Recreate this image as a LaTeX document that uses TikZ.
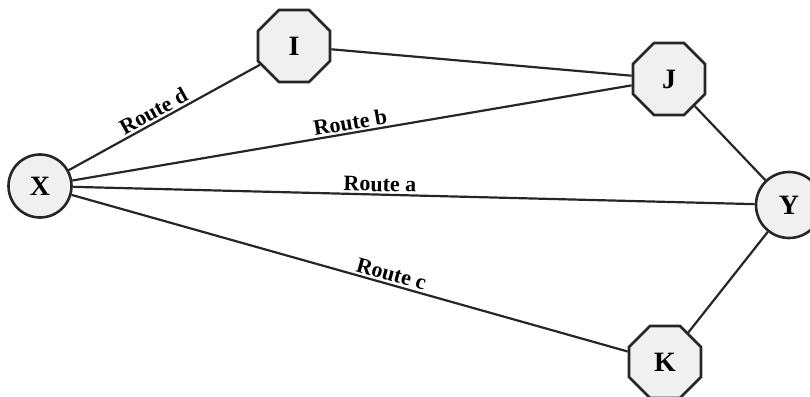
\documentclass[tikz,border=0pt]{standalone}
\usepackage{fontspec}
\setmainfont{Liberation Serif}
\usetikzlibrary{shapes.geometric}
\begin{document}
\begin{tikzpicture}[x=1pt,y=-1pt,
  vtx/.style={draw=black!85,line width=2.6pt,fill=black!6,inner sep=0pt,
    font=\fontsize{28}{30}\selectfont\bfseries},
  octo/.style={vtx,regular polygon,regular polygon sides=8,minimum size=78pt},
  circ/.style={vtx,circle},
  link/.style={draw=black!85,line width=2.2pt},
  lab/.style={sloped,above,inner sep=2pt,font=\fontsize{22}{24}\selectfont\bfseries}]
\useasboundingbox (0,0) rectangle (810,396);
\node[circ,minimum size=63pt] (X) at (40,186) {X};
\node[octo] (I) at (294,46) {I};
\node[octo] (J) at (669,79) {J};
\node[circ,minimum size=66pt] (Y) at (789,205) {Y};
\node[octo] (K) at (665,362) {K};
\draw[link] (X) -- node[lab,pos=0.47] {Route d} (I);
\draw[link] (X) -- node[lab,pos=0.50] {Route b} (J);
\draw[link] (X) -- node[lab,pos=0.45] {Route a} (Y);
\draw[link] (X) -- node[lab,pos=0.57] {Route c} (K);
\draw[link] (I) -- (J);
\draw[link] (J) -- (Y);
\draw[link] (Y) -- (K);
\end{tikzpicture}
\end{document}
